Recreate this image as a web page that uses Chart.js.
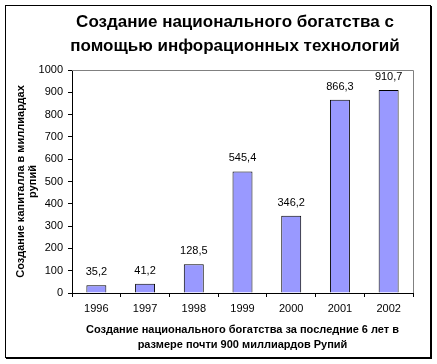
<!DOCTYPE html>
<html>
<head>
<meta charset="utf-8">
<script src="https://cdn.jsdelivr.net/npm/chart.js@4"></script>
<style>
  html, body { margin: 0; padding: 0; background: #fff; }
  #wrap { position: relative; width: 437px; height: 364px; }
</style>
</head>
<body>
<div id="wrap"><canvas id="c" width="437" height="364"></canvas></div>
<script>
const categories = ['1996', '1997', '1998', '1999', '2000', '2001', '2002'];
const values = [35.2, 41.2, 128.5, 545.4, 346.2, 866.3, 910.7];
const titleLines = ['Создание национального богатства с', 'помощью инфорационных технологий'];
const yTitleLines = ['Создание капиталла в миллиардах', 'рупий'];
const xTitleLines = ['Создание национального богатства за последние 6 лет в', 'размере почти 900 миллиардов Рупий'];
const yMin = 0, yMax = 1000, yStep = 100;

const FONT = 'Arial, "Liberation Sans", sans-serif';

const framePlugin = {
  id: 'frame',
  beforeDraw(chart) {
    const ctx = chart.ctx;
    ctx.save();
    ctx.fillStyle = '#fff';
    ctx.fillRect(0, 0, chart.width, chart.height);
    ctx.strokeStyle = '#000';
    ctx.lineWidth = 1;
    ctx.strokeRect(5.5, 5.5, 425, 352);
    ctx.beginPath();
    ctx.moveTo(431.5, 6); ctx.lineTo(431.5, 359);
    ctx.moveTo(6, 358.5); ctx.lineTo(432, 358.5);
    ctx.stroke();
    ctx.restore();
  },
  afterLayout(chart) {
    const tb = chart.titleBlock;
    if (tb) { tb.left = 57; tb.right = 413; }
  },
  beforeDatasetsDraw(chart) {
    const {ctx, chartArea: a} = chart;
    ctx.save();
    ctx.strokeStyle = '#808080';
    ctx.lineWidth = 1;
    ctx.beginPath();
    ctx.moveTo(a.left, Math.round(a.top) + 0.5);
    ctx.lineTo(Math.round(a.right) + 0.5, Math.round(a.top) + 0.5);
    ctx.lineTo(Math.round(a.right) + 0.5, a.bottom);
    ctx.stroke();
    ctx.restore();
  },
  afterDatasetsDraw(chart) {
    const ctx = chart.ctx;
    const meta = chart.getDatasetMeta(0);
    ctx.save();
    ctx.fillStyle = '#000';
    ctx.font = '11px ' + FONT;
    ctx.textAlign = 'center';
    ctx.textBaseline = 'middle';
    meta.data.forEach((bar, i) => {
      const txt = values[i].toFixed(1).replace('.', ',');
      ctx.fillText(txt, bar.x, bar.y - 13);
    });
    ctx.restore();
  }
};

new Chart(document.getElementById('c'), {
  type: 'bar',
  data: {
    labels: categories,
    datasets: [{
      data: values,
      backgroundColor: '#9999FF',
      borderColor: '#000',
      borderWidth: 1,
      categoryPercentage: 1,
      barPercentage: 0.41
    }]
  },
  options: {
    responsive: false,
    animation: false,
    devicePixelRatio: 1,
    layout: { padding: { left: 6, right: 24, top: 0, bottom: 12 } },
    plugins: {
      legend: { display: false },
      tooltip: { enabled: false },
      title: {
        display: true,
        text: titleLines,
        color: '#000',
        font: { family: FONT, size: 17, weight: 'bold', lineHeight: 24 / 17 },
        padding: { top: 10, bottom: 12 }
      }
    },
    scales: {
      x: {
        grid: { display: true, drawOnChartArea: false, drawTicks: true, tickLength: 4, color: '#000', offset: true },
        border: { color: '#000', width: 1 },
        ticks: { color: '#000', font: { family: FONT, size: 11 }, padding: 5, maxRotation: 0 },
        title: {
          display: true,
          text: xTitleLines,
          color: '#000',
          font: { family: FONT, size: 11, weight: 'bold', lineHeight: 15 / 11 },
          padding: { top: 0, bottom: 0 }
        },
        afterFit(scale) { scale.height = 59; }
      },
      y: {
        min: yMin,
        max: yMax,
        grid: { display: true, drawOnChartArea: false, drawTicks: true, tickLength: 4, color: '#000' },
        border: { color: '#000', width: 1 },
        ticks: {
          stepSize: yStep, color: '#000', font: { family: FONT, size: 11 }, padding: 5,
          callback: (v) => String(v)
        },
        title: {
          display: true,
          text: yTitleLines,
          color: '#000',
          font: { family: FONT, size: 11, weight: 'bold', lineHeight: 12 / 11 },
          padding: { top: 8.5, bottom: 0 }
        },
        afterFit(scale) { scale.width = 66; }
      }
    }
  },
  plugins: [framePlugin]
});
</script>
</body>
</html>
